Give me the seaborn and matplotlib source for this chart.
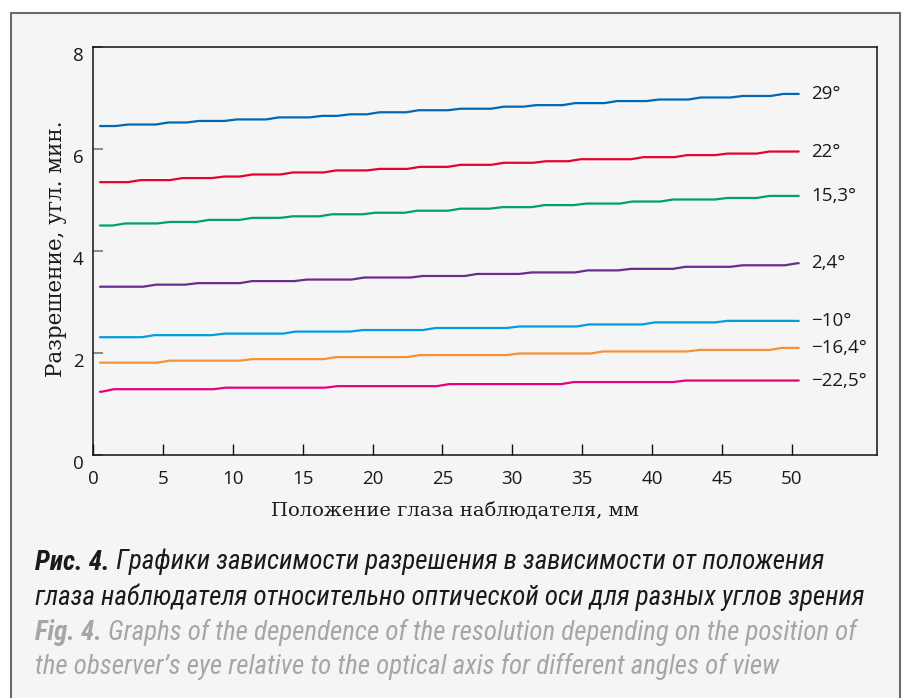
import matplotlib
matplotlib.use("Agg")
import matplotlib.pyplot as plt
from matplotlib import font_manager as fm
from matplotlib.patches import Rectangle
from matplotlib.transforms import ScaledTranslation
import numpy as np
import pandas as pd
import seaborn as sns

# ---- data -------------------------------------------------------------
angles = ["29°", "22°", "15,3°", "2,4°", "−10°", "−16,4°", "−22,5°"]
colors = ["#0068b4", "#e4032e", "#00a067", "#6a2c8e", "#009ee0", "#f39237", "#e5007d"]

x_start, x_end = 0.5, 50.5  # eye position range, mm

# positions (mm) where each curve steps up, and the resolution levels between steps
ramps_29 = [1.6, 4.5, 6.7, 9.4, 12.4, 15.5, 17.5, 19.6, 22.4, 25.4, 28.5, 30.8,
            33.6, 36.6, 39.6, 42.6, 45.6, 48.5]
levels_29 = [6.45, 6.48, 6.52, 6.55, 6.58, 6.62, 6.65, 6.68, 6.72, 6.76, 6.79,
             6.83, 6.86, 6.90, 6.94, 6.97, 7.01, 7.04, 7.08]

ramps_22 = [2.5, 5.5, 8.5, 10.5, 13.4, 16.5, 19.6, 22.5, 25.4, 28.5, 31.5, 34.0,
            38.5, 41.6, 44.5, 47.5]
levels_22 = [5.35, 5.39, 5.43, 5.46, 5.50, 5.54, 5.58, 5.61, 5.65, 5.69, 5.73,
             5.76, 5.80, 5.84, 5.88, 5.91, 5.95]

ramps_15 = [1.4, 4.6, 7.4, 10.5, 13.4, 16.2, 19.3, 22.3, 25.4, 28.4, 31.4, 34.4,
            37.7, 40.6, 44.5, 47.5]
levels_15 = [4.50, 4.54, 4.57, 4.61, 4.65, 4.68, 4.72, 4.75, 4.79, 4.83, 4.86,
             4.90, 4.93, 4.97, 5.01, 5.04, 5.08]

ramps_2 = [3.6, 6.6, 10.5, 14.4, 18.5, 22.7, 26.6, 30.5, 34.5, 37.6, 41.5, 45.6, 49.5]
levels_2 = [3.30, 3.34, 3.37, 3.41, 3.44, 3.48, 3.51, 3.55, 3.58, 3.62, 3.65,
            3.69, 3.72, 3.76]

ramps_m10 = [3.5, 8.5, 13.6, 18.4, 23.6, 29.6, 34.6, 39.3, 44.5]
levels_m10 = [2.31, 2.35, 2.38, 2.42, 2.45, 2.49, 2.52, 2.56, 2.60, 2.63]

ramps_m16 = [4.6, 10.5, 16.5, 22.5, 29.6, 35.6, 42.5, 48.4]
levels_m16 = [1.81, 1.85, 1.88, 1.92, 1.96, 1.99, 2.03, 2.06, 2.10]

ramps_m22 = [0.6, 8.6, 16.6, 24.6, 33.5, 41.5]
levels_m22 = [1.24, 1.29, 1.32, 1.35, 1.39, 1.43, 1.46]

x_ticks = [0, 5, 10, 15, 20, 25, 30, 35, 40, 45, 50]
y_ticks = [0, 2, 4, 6, 8]

series = list(zip(angles,
                  [ramps_29, ramps_22, ramps_15, ramps_2, ramps_m10, ramps_m16, ramps_m22],
                  [levels_29, levels_22, levels_15, levels_2, levels_m10, levels_m16, levels_m22]))

RAMP_W = 0.9  # width of each rising segment, mm


def staircase(ramps, levels):
    xs, ys = [x_start], [levels[0]]
    for r, lo, hi in zip(ramps, levels[:-1], levels[1:]):
        xs += [r, r + RAMP_W]
        ys += [lo, hi]
    xs.append(x_end)
    ys.append(levels[-1])
    return xs, ys


rows = []
for name, ramps, levels in series:
    xs, ys = staircase(ramps, levels)
    rows += [{"x": a, "y": b, "angle": name} for a, b in zip(xs, ys)]
df = pd.DataFrame(rows)

# ---- style --------------------------------------------------------------
sns.set_theme(style="ticks")
BG = "#f5f5f5"
SERIF = ["DejaVu Serif"]
SANS = ["Open Sans", "DejaVu Sans"]
plt.rcParams["font.family"] = SANS

avail = {f.name for f in fm.fontManager.ttflist}
cap_family = next((n for n in ["Roboto Condensed", "Liberation Sans Narrow",
                               "Open Sans Condensed", "Roboto"] if n in avail), "DejaVu Sans")

W, H = 907, 698
fig = plt.figure(figsize=(W / 100, H / 100), dpi=100, facecolor="white")

# framed panel behind everything
fig.patches.append(Rectangle((11 / W, -0.02), (900 - 11) / W, 1.02 - 13 / H,
                             transform=fig.transFigure, facecolor=BG,
                             edgecolor="#6b6b6b", linewidth=1.5, zorder=-10))

ax = fig.add_axes([93 / W, 1 - 455 / H, (877 - 93) / W, (455 - 47) / H])
ax.set_zorder(1)
ax.patch.set_alpha(0)

sns.lineplot(data=df, x="x", y="y", hue="angle", hue_order=angles,
             palette=colors, estimator=None, sort=False, legend=False,
             linewidth=1.6, ax=ax)

for (name, ramps, levels), c in zip(series, colors):
    ax.text(51.4, levels[-1], name, va="center", ha="left", fontsize=13.5,
            color="#1a1a1a", family=SANS)

ax.set_xlim(0, 56.1)
ax.set_ylim(0, 8)
ax.set_xticks(x_ticks)
ax.set_yticks(y_ticks)
ax.set_xlabel("")
ax.set_ylabel("")
for s in ax.spines.values():
    s.set_color("#111111")
    s.set_linewidth(1.1)
    s.set_visible(True)
ax.tick_params(axis="x", direction="in", length=8, width=1, color="#111111",
               labelsize=13.5, pad=11, labelcolor="#1a1a1a")
ax.tick_params(axis="y", direction="in", length=7, width=1.2, color="#777777",
               labelsize=13.5, pad=7, labelcolor="#1a1a1a")
shift = ScaledTranslation(0, -5 / 72, fig.dpi_scale_trans)
for lab in ax.get_yticklabels():
    lab.set_transform(lab.get_transform() + shift)

fig.text(455 / W, 1 - 511 / H, "Положение глаза наблюдателя, мм", ha="center",
         va="center", fontsize=14, family=SERIF, color="#1a1a1a")
fig.text(56 / W, 1 - 249 / H, "Разрешение, угл. мин.", ha="center", va="center",
         rotation=90, fontsize=15.5, family=SERIF, color="#1a1a1a")

# ---- caption ----------------------------------------------------------
cap_lines = [
    ("Рис. 4.", " Графики зависимости разрешения в зависимости от положения", "#1a1a1a"),
    ("", "глаза наблюдателя относительно оптической оси для разных углов зрения", "#1a1a1a"),
    ("Fig. 4.", " Graphs of the dependence of the resolution depending on the position of", "#a6a6a6"),
    ("", "the observer’s eye relative to the optical axis for different angles of view", "#a6a6a6"),
]
cap_y = [562, 597, 632, 666]
renderer = fig.canvas.get_renderer()

# size the caption font so the second line spans the panel text width
probe = fig.text(0, 0, cap_lines[1][1], fontsize=16, family=cap_family,
                 style="italic", weight="normal")
wpx = probe.get_window_extent(renderer).width
probe.remove()
cap_size = 16 * (868 - 35) / wpx

for (bold, rest, col), yy in zip(cap_lines, cap_y):
    x0 = 35 / W
    if bold:
        t = fig.text(x0, 1 - yy / H, bold, fontsize=cap_size, family=cap_family,
                     style="italic", weight="bold", color=col, va="center")
        bb = t.get_window_extent(renderer)
        x0 = bb.x1 / W
    fig.text(x0, 1 - yy / H, rest, fontsize=cap_size, family=cap_family,
             style="italic", weight="normal", color=col, va="center")

fig.savefig("out.png", dpi=100, facecolor="white")
